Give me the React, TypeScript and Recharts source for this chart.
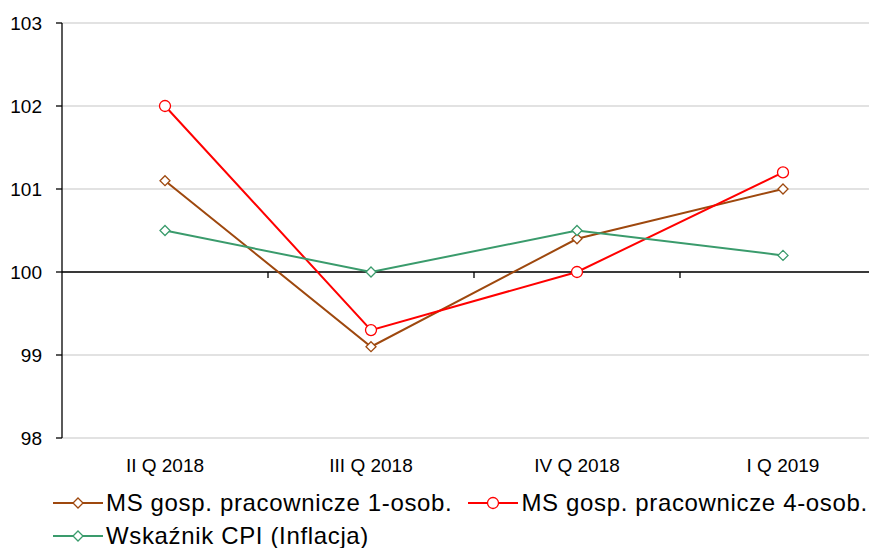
import React from "react";
import { LineChart, Line, XAxis, YAxis, CartesianGrid, ReferenceLine } from "recharts";

const categories = ["II Q 2018", "III Q 2018", "IV Q 2018", "I Q 2019"];
const msOne = [101.1, 99.1, 100.4, 101.0];
const msFour = [102.0, 99.3, 100.0, 101.2];
const cpi = [100.5, 100.0, 100.5, 100.2];
const yTicks = [98, 99, 100, 101, 102, 103];

const BROWN = "#9E480E";
const RED = "#FF0000";
const GREEN = "#3A9B6C";
const FONT = "'Liberation Sans', Arial, sans-serif";

const series = [
  { key: "ms1", name: "MS gosp. pracownicze 1-osob.", color: BROWN, shape: "diamond" },
  { key: "ms4", name: "MS gosp. pracownicze 4-osob.", color: RED, shape: "circle" },
  { key: "cpi", name: "Wskaźnik CPI (Inflacja)", color: GREEN, shape: "diamond" },
];

const data = categories.map((cat, i) => ({
  x: i + 0.5,
  cat,
  ms1: msOne[i],
  ms4: msFour[i],
  cpi: cpi[i],
}));

const boundaries = categories.slice(1).map((_, i) => i + 1);

function Marker({ cx, cy, color, shape }: any) {
  if (cx == null || cy == null) return null;
  if (shape === "circle") {
    return <circle cx={cx} cy={cy} r={5.5} fill="#fff" stroke={color} strokeWidth={1.3} />;
  }
  const s = 5;
  return (
    <path
      d={`M${cx},${cy - s}L${cx + s},${cy}L${cx},${cy + s}L${cx - s},${cy}Z`}
      fill="#fff"
      stroke={color}
      strokeWidth={1.3}
    />
  );
}

function LegendItem({ s }: any) {
  return (
    <div style={{ display: "flex", alignItems: "center", whiteSpace: "nowrap", marginRight: 16 }}>
      <svg width={50} height={14} style={{ marginRight: 3 }}>
        <line x1={0} y1={7} x2={50} y2={7} stroke={s.color} strokeWidth={2} />
        <Marker cx={25} cy={7} color={s.color} shape={s.shape} />
      </svg>
      <span>{s.name}</span>
    </div>
  );
}

function ChartLegend() {
  const rows = [series.slice(0, 2), series.slice(2)];
  return (
    <div
      style={{
        paddingLeft: 45,
        fontFamily: FONT,
        fontSize: 24,
        letterSpacing: 0.65,
        lineHeight: "33px",
        color: "#000",
      }}
    >
      {rows.map((row, r) => (
        <div key={r} style={{ display: "flex" }}>
          {row.map((s) => (
            <LegendItem key={s.key} s={s} />
          ))}
        </div>
      ))}
    </div>
  );
}

export default function App() {
  return (
    <div style={{ width: 869, height: 540, overflow: "hidden" }}>
      <LineChart
        width={900}
        height={470}
        data={data}
        margin={{ top: 15, right: 22, bottom: 0, left: 0 }}
        style={{ fontFamily: FONT }}
      >
        <CartesianGrid horizontal vertical={false} stroke="#d9d9d9" strokeWidth={1.3} />
        <XAxis
          dataKey="x"
          type="number"
          domain={[0, 4]}
          ticks={data.map((d) => d.x)}
          tickFormatter={(v: number) => categories[Math.floor(v)]}
          axisLine={false}
          tickLine={false}
          height={40}
          tick={{ fill: "#000", fontSize: 19 }}
          tickMargin={15}
        />
        <YAxis
          domain={[98, 103]}
          ticks={yTicks}
          width={54}
          axisLine={{ stroke: "#000", strokeWidth: 1.3 }}
          tickLine={{ stroke: "#000", strokeWidth: 1.3 }}
          tickSize={6}
          tick={{ fill: "#000", fontSize: 19 }}
          tickMargin={14}
          interval={0}
        />
        <ReferenceLine y={100} stroke="#000" strokeWidth={1.3} />
        {boundaries.map((b) => (
          <ReferenceLine
            key={b}
            segment={[
              { x: b, y: 100 },
              { x: b, y: 99.928 },
            ]}
            stroke="#000"
            strokeWidth={1.3}
          />
        ))}
        {series.map((s) => (
          <Line
            key={s.key}
            dataKey={s.key}
            name={s.name}
            stroke={s.color}
            strokeWidth={2}
            isAnimationActive={false}
            dot={(p: any) => <Marker key={`${s.key}-${p.index}`} cx={p.cx} cy={p.cy} color={s.color} shape={s.shape} />}
            activeDot={false}
          />
        ))}
      </LineChart>
      <div style={{ marginTop: 8 }}>
        <ChartLegend />
      </div>
    </div>
  );
}
